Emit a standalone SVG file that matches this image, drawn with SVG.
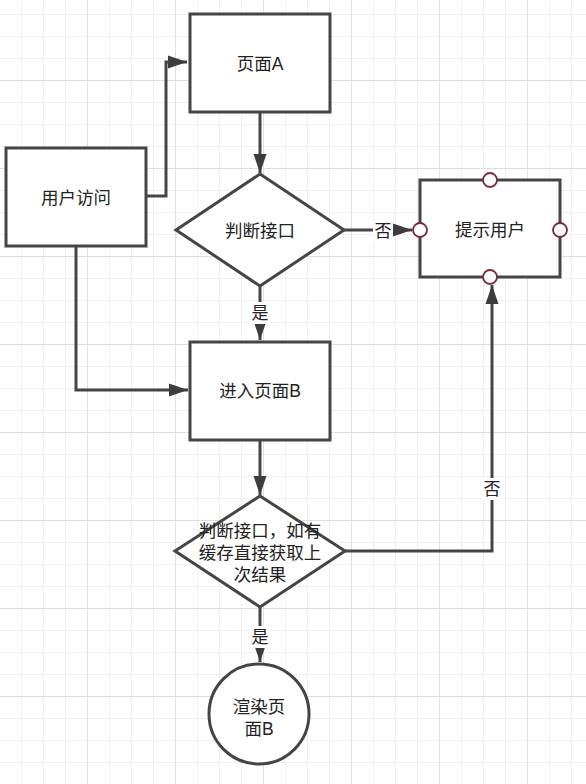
<svg xmlns="http://www.w3.org/2000/svg" width="586" height="784" viewBox="0 0 586 784">
<defs>
<pattern id="minor" patternUnits="userSpaceOnUse" x="21" y="14" width="22" height="22">
<path d="M0,0 V22 M0,0 H22" fill="none" stroke="#ececec" stroke-width="1.5"/>
</pattern>
<pattern id="major" patternUnits="userSpaceOnUse" x="87" y="80" width="88" height="88">
<path d="M0,0 V88 M0,0 H88" fill="none" stroke="#dedede" stroke-width="1.8"/>
</pattern>
<marker id="arr" markerUnits="userSpaceOnUse" markerWidth="20" markerHeight="14" refX="19" refY="7" orient="auto">
<path d="M0,0.5 L19,7 L0,13.5 z" fill="#3d3d3d"/>
</marker>
<style>
.shape{fill:#ffffff;stroke:#454545;stroke-width:3;}
.edge{fill:none;stroke:#454545;stroke-width:3;}
.t{font-family:"Liberation Sans","Noto Sans CJK SC",sans-serif;font-size:17.5px;fill:#222;text-anchor:middle;dominant-baseline:central;}
.lbl{font-family:"Liberation Sans","Noto Sans CJK SC",sans-serif;font-size:17px;fill:#222;text-anchor:middle;dominant-baseline:central;}
.pt{fill:#ffffff;stroke:#7a2a38;stroke-width:1.8;}
</style>
</defs>
<rect width="586" height="784" fill="#ffffff"/>
<rect width="586" height="784" fill="url(#minor)"/>
<rect width="586" height="784" fill="url(#major)"/>

<g id="connectors">
<path class="edge" d="M146,196 H166 V62 H187" marker-end="url(#arr)"/>
<path class="edge" d="M260,112 V173" marker-end="url(#arr)"/>
<path class="edge" d="M344,230 H412" marker-end="url(#arr)"/>
<rect x="373" y="220" width="20" height="22" fill="#ffffff"/>
<text class="lbl" x="383" y="231">否</text>
<path class="edge" d="M260,286 V340" marker-end="url(#arr)"/>
<rect x="250" y="302" width="20" height="22" fill="#ffffff"/>
<text class="lbl" x="260" y="313">是</text>
<path class="edge" d="M76,246 V390 H188" marker-end="url(#arr)"/>
<path class="edge" d="M260,440 V495" marker-end="url(#arr)"/>
<path class="edge" d="M345,551 H492 V285" marker-end="url(#arr)"/>
<rect x="482" y="478" width="20" height="22" fill="#ffffff"/>
<text class="lbl" x="492" y="489">否</text>
<path class="edge" d="M260,607 V662" marker-end="url(#arr)"/>
<rect x="250" y="626" width="20" height="22" fill="#ffffff"/>
<text class="lbl" x="260" y="637">是</text>
</g>

<g id="node-user">
<rect class="shape" x="6" y="148" width="140" height="98"/>
<text class="t" x="76" y="198">用户访问</text>
</g>
<g id="node-pageA">
<rect class="shape" x="190" y="14" width="140" height="98"/>
<text class="t" x="260" y="64">页面A</text>
</g>
<g id="node-check1">
<polygon class="shape" points="260,174 344,230 260,286 176,230"/>
<text class="t" x="260" y="231">判断接口</text>
</g>
<g id="node-tip">
<rect class="shape" x="420" y="180" width="140" height="97"/>
<text class="t" x="490" y="230">提示用户</text>
<circle class="pt" cx="490" cy="180" r="7"/>
<circle class="pt" cx="420" cy="230" r="7"/>
<circle class="pt" cx="560" cy="230" r="7"/>
<circle class="pt" cx="490" cy="277" r="7"/>
</g>
<g id="node-pageB">
<rect class="shape" x="190" y="342" width="140" height="98"/>
<text class="t" x="260" y="391">进入页面B</text>
</g>
<g id="node-check2">
<polygon class="shape" points="260,496 345,551 260,607 175,551"/>
<text class="t" x="260" y="531">判断接口，如有</text>
<text class="t" x="260" y="553">缓存直接获取上</text>
<text class="t" x="260" y="575">次结果</text>
</g>
<g id="node-render">
<circle class="shape" cx="259" cy="714" r="50"/>
<text class="t" x="259" y="707">渲染页</text>
<text class="t" x="259" y="729">面B</text>
</g>
</svg>
